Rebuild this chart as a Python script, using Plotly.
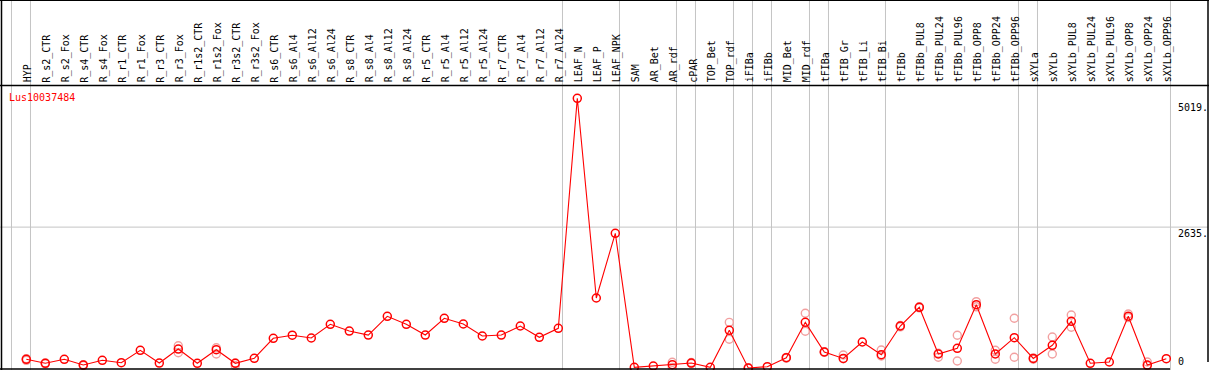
import plotly.graph_objects as go

categories = [
    "HYP", "R_s2_CTR", "R_s2_Fox", "R_s4_CTR", "R_s4_Fox", "R_r1_CTR", "R_r1_Fox",
    "R_r3_CTR", "R_r3_Fox", "R_r1s2_CTR", "R_r1s2_Fox", "R_r3s2_CTR", "R_r3s2_Fox",
    "R_s6_CTR", "R_s6_Al4", "R_s6_Al12", "R_s6_Al24", "R_s8_CTR", "R_s8_Al4",
    "R_s8_Al12", "R_s8_Al24", "R_r5_CTR", "R_r5_Al4", "R_r5_Al12", "R_r5_Al24",
    "R_r7_CTR", "R_r7_Al4", "R_r7_Al12", "R_r7_Al24", "LEAF_N", "LEAF_P", "LEAF_NPK",
    "SAM", "AR_Bet", "AR_rdf", "cPAR", "TOP_Bet", "TOP_rdf", "iFIBa", "iFIBb",
    "MID_Bet", "MID_rdf", "tFIBa", "tFIB_Gr", "tFIB_Li", "tFIB_Bi", "tFIBb",
    "tFIBb_PUL8", "tFIBb_PUL24", "tFIBb_PUL96", "tFIBb_OPP8", "tFIBb_OPP24",
    "tFIBb_OPP96", "sXYLa", "sXYLb", "sXYLb_PUL8", "sXYLb_PUL24", "sXYLb_PUL96",
    "sXYLb_OPP8", "sXYLb_OPP24", "sXYLb_OPP96",
]

mean_values = [
    189, 115, 189, 83, 170, 126, 355, 120, 379, 115, 366, 115, 207,
    577, 635, 583, 836, 712, 638, 985, 836, 638, 948, 842, 620, 638, 805, 596, 762,
    5019, 1323, 2521,
    40, 65, 89, 120, 40, 725, 28, 52, 218, 873,
    324, 204, 509, 274, 805, 1151, 287, 392, 1199, 287, 589,
    204, 448, 892, 115, 139, 986, 83, 200,
]

rep_a = [
    170, 105, None, 75, None, None, None, None, 440, None, 403, 70, None,
    None, None, None, None, None, None, None, None, None, None, None, None, None, None, None, None,
    None, None, None,
    None, None, 133, 130, None, 873, 20, None, 210, 1040,
    330, 268, None, 361, 790, 1160, 228, 633, 1255, 355, 948,
    190, 601, 1009, None, None, 1027, 139, None,
]

rep_b = [
    200, 122, None, 90, None, None, None, None, 311, None, 287, 120, None,
    None, None, None, None, None, None, None, None, None, None, None, None, None, None, None, None,
    None, None, None,
    None, None, 40, 112, None, 559, 35, None, 225, 707,
    318, 200, None, 250, 815, 1140, 300, 157, 1160, 189, 226,
    215, 287, 781, None, None, 960, 70, None,
]

# group separators: index of the last category of each group (-1 = left edge)
group_ends = [-1, 0, 28, 31, 34, 35, 37, 38, 39, 41, 42, 45, 52, 53, 60]

gene_name = "Lus10037484"
tick_values = [5019, 2635, 0]
tick_labels = ["5019.", "2635.", "0"]

W, H = 1209, 370
x0_px, dx_px = 26.3, 19.0          # pixel of first category, spacing
y0_px, ky = 369.5, 0.054035        # pixel of value 0, pixels per unit

x_idx = list(range(len(categories)))

fig = go.Figure()

def reps_xy(reps):
    xs = [i for i, v in zip(x_idx, reps) if v is not None]
    ys = [v for v in reps if v is not None]
    return xs, ys

for reps in (rep_a, rep_b):
    xs, ys = reps_xy(reps)
    fig.add_trace(go.Scatter(
        x=xs, y=ys, mode="markers",
        marker=dict(symbol="circle-open", size=8, color="#f2a0a0",
                    line=dict(width=1.4, color="#f2a0a0")),
        hoverinfo="skip", showlegend=False,
    ))

fig.add_trace(go.Scatter(
    x=x_idx, y=mean_values, mode="lines+markers",
    line=dict(color="#ff0000", width=1.1),
    marker=dict(symbol="circle-open", size=8, color="#ff0000",
                line=dict(width=1.5, color="#ff0000")),
    showlegend=False,
))

shapes = []
grey = "#c4c4c4"
for b in group_ends:
    shapes.append(dict(type="line", xref="x", yref="paper",
                       x0=b + 0.22, x1=b + 0.22, y0=0, y1=1,
                       line=dict(color=grey, width=1), layer="below"))
# horizontal gridline at the middle tick
shapes.append(dict(type="line", xref="paper", yref="y",
                   x0=0, x1=1208 / W, y0=tick_values[1], y1=tick_values[1],
                   line=dict(color=grey, width=1), layer="below"))
# frame lines
blk = "#000000"
shapes += [
    dict(type="line", xref="paper", yref="paper", x0=0, x1=1, y0=1 - 0.5 / H, y1=1 - 0.5 / H,
         line=dict(color=blk, width=1)),
    dict(type="line", xref="paper", yref="paper", x0=0, x1=1, y0=1 - 85.5 / H, y1=1 - 85.5 / H,
         line=dict(color=blk, width=1.5)),
    dict(type="line", xref="paper", yref="paper", x0=0, x1=1170 / W, y0=1 - 369 / H, y1=1 - 369 / H,
         line=dict(color=blk, width=1.5)),
    dict(type="line", xref="paper", yref="paper", x0=1.5 / W, x1=1.5 / W, y0=0, y1=1,
         line=dict(color=blk, width=1.5)),
    dict(type="line", xref="paper", yref="paper", x0=1208 / W, x1=1208 / W, y0=1 - 362 / H, y1=1,
         line=dict(color=blk, width=1.5)),
]

annotations = []
mono = "DejaVu Sans Mono"
for i, name in enumerate(categories):
    annotations.append(dict(
        x=i + 0.08, xref="x", y=1 - 83.5 / H, yref="paper",
        text=name, textangle=-90, showarrow=False,
        xanchor="center", yanchor="bottom",
        font=dict(family=mono, size=10, color="#000000"),
        borderpad=0,
    ))

annotations.append(dict(
    x=8 / W, xref="paper", y=1 - 98 / H, yref="paper", text=gene_name,
    showarrow=False, xanchor="left", yanchor="middle", borderpad=0,
    font=dict(family=mono, size=10, color="#ff0000"),
))

tick_anchor = ["top", "top", "bottom"]
tick_shift = [-3, 0, 2]
for v, lab, anc, sh in zip(tick_values, tick_labels, tick_anchor, tick_shift):
    annotations.append(dict(
        x=1177 / W, xref="paper", y=v, yref="y", text=lab, showarrow=False,
        xanchor="left", yanchor=anc, yshift=sh, borderpad=0,
        font=dict(family=mono, size=10, color="#000000"),
    ))

fig.update_layout(
    width=W, height=H, autosize=False,
    margin=dict(l=0, r=0, t=0, b=0, pad=0),
    paper_bgcolor="white", plot_bgcolor="white",
    xaxis=dict(range=[(0 - x0_px) / dx_px, (W - x0_px) / dx_px],
               visible=False, showgrid=False, zeroline=False, fixedrange=True),
    yaxis=dict(range=[(y0_px - H) / ky, y0_px / ky],
               visible=False, showgrid=False, zeroline=False, fixedrange=True),
    shapes=shapes, annotations=annotations,
)

fig.write_html(
    "out.html",
    config={"displayModeBar": False},
    post_script="document.body.style.margin='0';document.body.style.overflow='hidden';",
)
